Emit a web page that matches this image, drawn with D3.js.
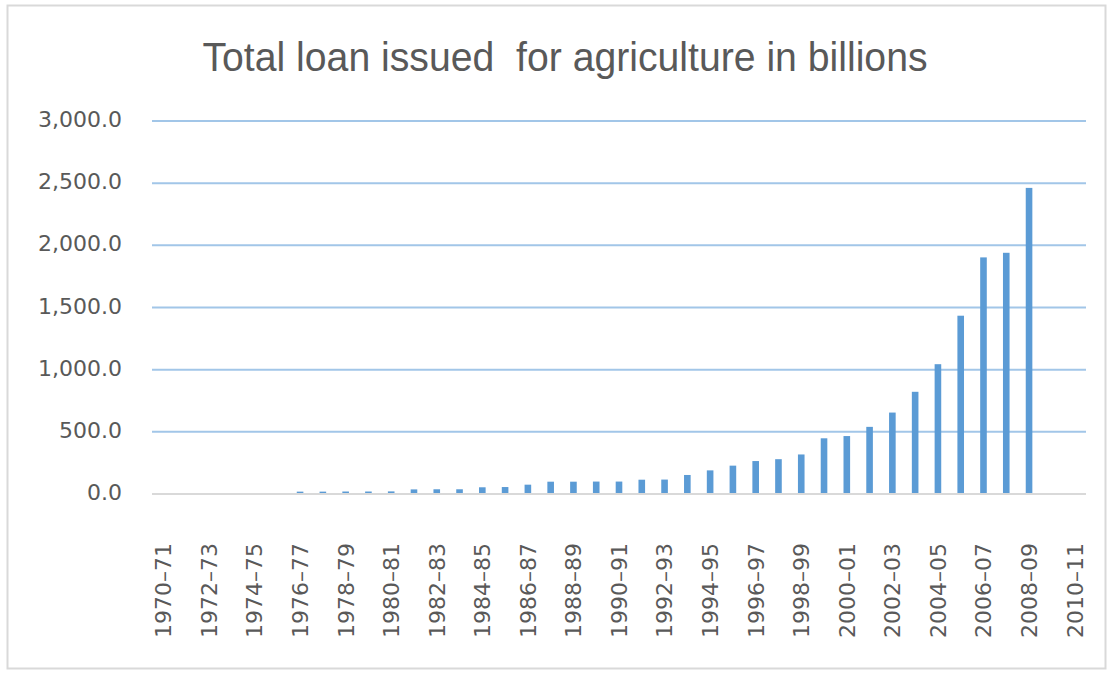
<!DOCTYPE html>
<html>
<head>
<meta charset="utf-8">
<script src="https://cdn.jsdelivr.net/npm/d3@7"></script>
<style>
  html, body { margin: 0; padding: 0; background: #ffffff; }
  svg { display: block; }
</style>
</head>
<body>
<script>
// Crop years, one per financial year
const years = [
  "1970\u201371","1971\u201372","1972\u201373","1973\u201374","1974\u201375","1975\u201376",
  "1976\u201377","1977\u201378","1978\u201379","1979\u201380","1980\u201381","1981\u201382",
  "1982\u201383","1983\u201384","1984\u201385","1985\u201386","1986\u201387","1987\u201388",
  "1988\u201389","1989\u201390","1990\u201391","1991\u201392","1992\u201393","1993\u201394",
  "1994\u201395","1995\u201396","1996\u201397","1997\u201398","1998\u201399","1999\u201300",
  "2000\u201301","2001\u201302","2002\u201303","2003\u201304","2004\u201305","2005\u201306",
  "2006\u201307","2007\u201308","2008\u201309","2009\u201310","2010\u201311"
];

// Total agricultural loans issued, in billions (null = no figure)
const loans = [
  null, null, null, null, null, null,
  19, 19, 20, 20, 21, 37,
  38, 38, 54, 56, 75, 99,
  99, 100, 100, 115, 116, 153,
  190, 228, 265, 280, 318, 448,
  466, 540, 655, 822, 1044, 1434,
  1903, 1940, 2462, null, null
];

// Every second year gets a label on the category axis
const labelledYears = years.filter((d, i) => i % 2 === 0);

const yTicks = [0, 500, 1000, 1500, 2000, 2500, 3000];

const chartTitle = "Total loan issued  for agriculture in billions";

const W = 1112, H = 673;
const margin = { left: 152, right: 26, top: 121, bottom: 179 };

const svg = d3.select("body").append("svg")
  .attr("width", W)
  .attr("height", H);

// Chart frame
svg.append("rect")
  .attr("x", 7.5).attr("y", 5.5)
  .attr("width", 1098).attr("height", 663)
  .attr("fill", "#ffffff")
  .attr("stroke", "#d9d9d9")
  .attr("stroke-width", 2);

const x = d3.scaleBand()
  .domain(years)
  .range([margin.left, W - margin.right])
  .paddingInner(0.71)
  .paddingOuter(0.355);

const y = d3.scaleLinear()
  .domain([0, 3000])
  .range([H - margin.bottom, margin.top]);

// Horizontal gridlines
svg.append("g")
  .selectAll("line")
  .data(yTicks.filter(d => d > 0))
  .join("line")
  .attr("x1", margin.left)
  .attr("x2", W - margin.right)
  .attr("y1", d => y(d))
  .attr("y2", d => y(d))
  .attr("stroke", "#a2c6e8")
  .attr("stroke-width", 2);

// Value axis labels
const yAxis = d3.axisLeft(y)
  .tickValues(yTicks)
  .tickSize(0)
  .tickPadding(30)
  .tickFormat(d3.format(",.1f"));

const gy = svg.append("g")
  .attr("transform", `translate(${margin.left},0)`)
  .call(yAxis);
gy.select(".domain").remove();
gy.selectAll("text")
  .attr("fill", "#595959")
  .attr("font-family", "'DejaVu Sans', sans-serif")
  .attr("font-size", 22)
  .attr("dy", "0.25em");

// Bars
svg.append("g")
  .selectAll("rect")
  .data(years.map((yr, i) => ({ yr, v: loans[i] })).filter(d => d.v != null))
  .join("rect")
  .attr("x", d => x(d.yr))
  .attr("width", x.bandwidth())
  .attr("y", d => y(d.v))
  .attr("height", d => y(0) - y(d.v))
  .attr("fill", "#5b9bd5");

// Category axis line
svg.append("line")
  .attr("x1", margin.left)
  .attr("x2", W - margin.right)
  .attr("y1", y(0))
  .attr("y2", y(0))
  .attr("stroke", "#d9d9d9")
  .attr("stroke-width", 2);

// Category labels, rotated
const xAxis = d3.axisBottom(x)
  .tickValues(labelledYears)
  .tickSize(0)
  .tickPadding(0);

const gx = svg.append("g")
  .attr("transform", `translate(0,${y(0)})`)
  .call(xAxis);
gx.select(".domain").remove();
gx.selectAll("text")
  .attr("fill", "#595959")
  .attr("font-family", "'DejaVu Sans', sans-serif")
  .attr("font-size", 22)
  .attr("text-anchor", "end")
  .attr("transform", "rotate(-90)")
  .attr("x", -49)
  .attr("y", 0)
  .attr("dy", "0.36em");

// Title
svg.append("text")
  .attr("x", 565)
  .attr("y", 71)
  .attr("text-anchor", "middle")
  .attr("fill", "#595959")
  .attr("font-family", "'Liberation Sans Narrow', 'Liberation Sans', sans-serif")
  .attr("font-size", 40)
  .attr("textLength", 725)
  .attr("lengthAdjust", "spacingAndGlyphs")
  .style("white-space", "pre")
  .text(chartTitle);
</script>
</body>
</html>
